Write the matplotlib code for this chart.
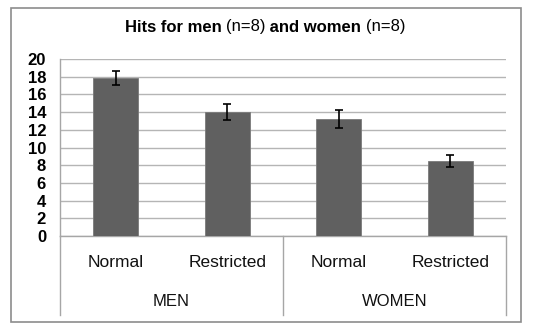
import matplotlib
matplotlib.use("Agg")
import matplotlib.pyplot as plt
import matplotlib.transforms as mtransforms
from matplotlib.patches import Rectangle

plt.rcParams["font.family"] = ["Liberation Sans", "DejaVu Sans"]

# hits per condition, men first then women
groups = ["MEN", "WOMEN"]
conditions = ["Normal", "Restricted"]
hits = [17.9, 14.0, 13.2, 8.5]
hit_err = [0.8, 0.9, 1.0, 0.7]
yticks = list(range(0, 21, 2))

W, H = 534, 336
fig = plt.figure(figsize=(W / 100, H / 100), dpi=100)
fig.patch.set_facecolor("white")

# plot area in pixel terms
left, right, top, bottom = 60, 506, 59, 236
ax = fig.add_axes([left / W, 1 - bottom / H, (right - left) / W, (bottom - top) / H])

labels = [c for _ in groups for c in conditions]
xpos = list(range(len(labels)))

ax.bar(xpos, hits, width=0.4, color="#606060", edgecolor="#7a7a7a", linewidth=0.6, zorder=3)
ax.errorbar(xpos, hits, yerr=hit_err, fmt="none", ecolor="black", elinewidth=1.2,
            capsize=2.6, capthick=1.2, zorder=4)

ax.set_xlim(-0.5, len(labels) - 0.5)
ax.set_ylim(0, 20)
ax.set_yticks(yticks)
ax.set_yticklabels([str(t) for t in yticks], fontweight="bold", fontsize=12)
ax.tick_params(axis="y", length=0, pad=10)
ax.set_xticks(xpos)
ax.set_xticklabels(labels, fontsize=12.5, color="#111111")
ax.tick_params(axis="x", length=0, pad=14)
ax.grid(axis="y", color="#b5b5b5", linewidth=1, zorder=0)
ax.set_axisbelow(True)

for side in ["top", "right"]:
    ax.spines[side].set_visible(False)
for side in ["left", "bottom"]:
    ax.spines[side].set_color("#a6a6a6")
    ax.spines[side].set_linewidth(1)

# group separators and group names below the axis
trans = mtransforms.blended_transform_factory(ax.transData, ax.transAxes)
sep_bottom = -(315 - bottom) / (bottom - top)
n_cond = len(conditions)
for g in range(len(groups) + 1):
    xs = g * n_cond - 0.5
    ax.plot([xs, xs], [0, sep_bottom], color="#a6a6a6", linewidth=1,
            transform=trans, clip_on=False)
for g, name in enumerate(groups):
    xc = g * n_cond + (n_cond - 1) / 2
    ax.text(xc, -(301 - bottom) / (bottom - top), name, transform=trans,
            ha="center", va="center", fontsize=12, color="#111111")

# title with bold and regular parts
title_parts = [("Hits for men ", "bold"), ("(n=8)", "normal"),
               (" and women ", "bold"), ("(n=8)", "normal")]
renderer = fig.canvas.get_renderer()
pieces = []
total_w = 0
for txt, weight in title_parts:
    t = fig.text(0, 0, txt, fontsize=12, fontweight=weight)
    w = t.get_window_extent(renderer).width
    pieces.append((t, w))
    total_w += w
x0 = 265 - total_w / 2
for t, w in pieces:
    t.set_position((x0 / W, 1 - 27 / H))
    t.set_va("center")
    x0 += w

# outer chart border
fig.patches.append(Rectangle((11 / W, 1 - 322 / H), 510 / W, 314 / H,
                             transform=fig.transFigure, fill=False,
                             edgecolor="#8c8c8c", linewidth=1.2))

fig.savefig("out.png", dpi=100)
